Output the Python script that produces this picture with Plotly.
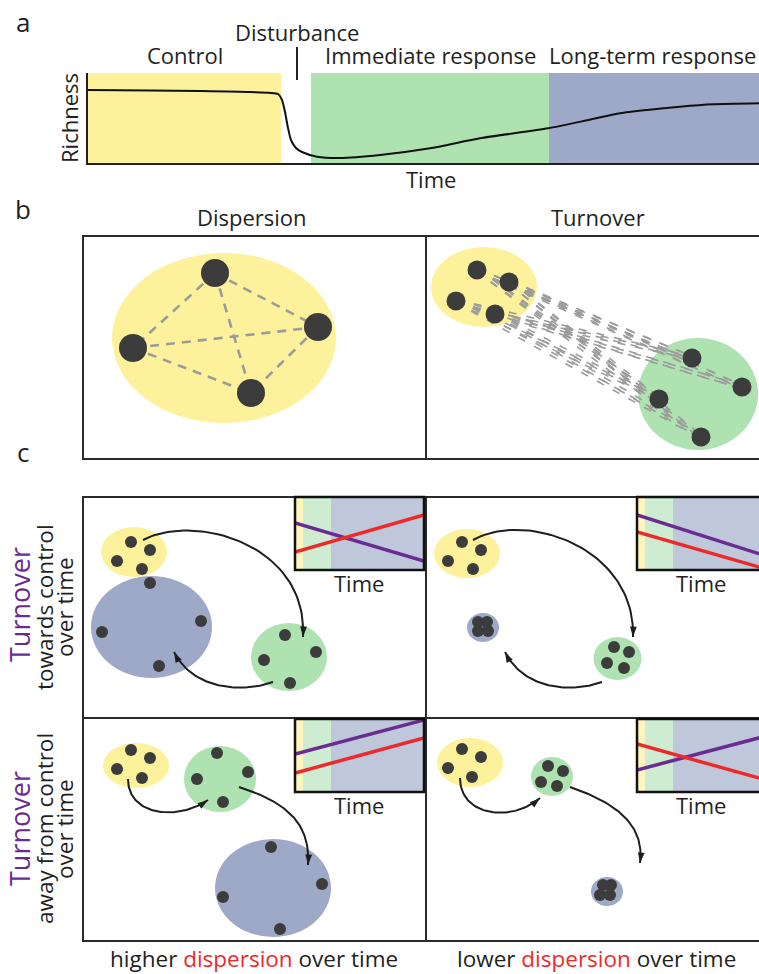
import math
import numpy as np
import plotly.graph_objects as go

PAGE_W, PAGE_H = 759, 974
FONT = "Open Sans"
INK = "#231F20"
YELLOW, GREEN, BLUE = "#FDF29B", "#AEE2B0", "#9DA9C7"
YELLOW_L, GREEN_L, BLUE_L = "#FCF6BE", "#CDECD2", "#BFC7DB"
DOT = "#3C3C3C"
PURPLE, RED = "#6A2C91", "#ED2A2A"
GRAY = "#9B9B9B"

# ---------------- panel a : richness through time ----------------
phase_labels = ["Control", "Immediate response", "Long-term response"]
phase_start = [0, 223, 461]
phase_end = [193, 461, 681]
disturbance_time = 209
time_a = [0, 62, 112, 162, 190, 194, 197, 200, 203, 208, 214, 229, 252, 292,
          342, 392, 460, 499, 532, 559, 592, 625, 671]
richness_a = [73, 72.5, 72, 71, 69, 63, 51, 35, 23, 15, 11, 6.3, 5, 8,
              14.7, 24.7, 34.7, 42.7, 49.7, 53, 56.3, 58.7, 59.7]

# ---------------- panel b : dispersion / turnover ----------------
disp_x = [132, 235, 50, 168]
disp_y = [186, 132, 111, 66]
disp_ellipse = [141, 121, 112, 85]

turn_ctrl_x = [51, 83, 30, 69]
turn_ctrl_y = [189, 177, 158, 145]
turn_ctrl_ellipse = [58, 172, 53, 40]
turn_imm_x = [266, 316, 233, 275]
turn_imm_y = [101, 72, 60, 22]
turn_imm_ellipse = [272, 65, 60, 56]

# ---------------- panel c : four scenarios ----------------
# top-left: turnover towards control, higher dispersion
tl_ctrl = [(48, 176), (67, 168), (34, 157), (59, 149)]
tl_imm = [(202, 83), (233, 66), (181, 58), (207, 35)]
tl_long = [(67, 135), (118, 97), (19, 86), (76, 52)]
tl_ellipses = [(51, 166, 33, 25), (206, 61, 38, 34), (68.5, 91, 60.5, 51)]
tl_arrows = [[(60, 178), (110, 205), (225, 175), (220, 81)],
             [(190, 36), (160, 25), (110, 28), (91, 66)]]
# top-right: turnover towards control, lower dispersion
tr_ctrl = [(36, 176), (55, 168), (22, 157), (47, 149)]
tr_imm = [(188, 71), (203, 66), (181, 55), (198, 50)]
tr_long = [(52, 96), (61, 96), (52, 87), (62, 87)]
tr_ellipses = [(41, 164.5, 33, 24.5), (191.5, 59.5, 24, 21.5), (57, 90.5, 16, 14.5)]
tr_arrows = [[(47, 178), (100, 208), (210, 170), (207, 81)],
             [(176, 36), (146, 25), (98, 28), (79, 66)]]
# bottom-left: turnover away from control, higher dispersion
bl_ctrl = [(48, 191), (67, 183), (34, 172), (59, 163)]
bl_imm = [(134, 188), (165, 169), (114, 162), (140, 139)]
bl_long = [(188, 94), (239, 57), (140, 44), (197, 12)]
bl_ellipses = [(53, 175.5, 33, 22.5), (137, 162, 36, 33), (190, 53, 58, 49)]
bl_arrows = [[(45, 162), (45, 125), (95, 120), (125, 141)],
             [(156, 154), (200, 140), (228, 120), (225, 76)]]
# bottom-right: turnover away from control, lower dispersion
br_ctrl = [(36, 192), (55, 184), (22, 173), (46, 164)]
br_imm = [(122, 175), (137, 170), (115, 159), (131, 155)]
br_long = [(177, 56), (185, 56), (174, 46), (184, 46)]
br_ellipses = [(44, 178.5, 33, 24.5), (126, 164.5, 21, 19.5), (181, 49.5, 16, 14.5)]
br_arrows = [[(34, 163), (34, 125), (85, 118), (114, 143)],
             [(144, 154), (200, 135), (218, 110), (214, 78)]]

# inset metric lines (time 0..129)
inset_time = [0, 129]
inset_phase_start = [0, 8, 36]
inset_phase_end = [8, 36, 129]
tl_turnover, tl_dispersion = [47, 9], [18, 55]
tr_turnover, tr_dispersion = [55, 14], [38, 1]
bl_turnover, bl_dispersion = [38, 72], [19, 54]
br_turnover, br_dispersion = [22, 56], [48, 12]


# ---------------- helpers ----------------
def px(x):
    return x / PAGE_W


def py(y):
    return 1 - y / PAGE_H


def axn(n):
    return ("x", "y") if n == 1 else (f"x{n}", f"y{n}")


fig = go.Figure()
shapes = []
annotations = []
layout_axes = {}


def add_axes(n, x0, x1, y0, y1, xr, yr, visible=False):
    xa, ya = axn(n)
    xkey = "xaxis" if n == 1 else f"xaxis{n}"
    ykey = "yaxis" if n == 1 else f"yaxis{n}"
    common = dict(visible=visible, showgrid=False, zeroline=False, fixedrange=True,
                  showticklabels=False, ticks="")
    layout_axes[xkey] = dict(domain=[px(x0), min(1, px(x1))], range=xr, anchor=ya, **common)
    layout_axes[ykey] = dict(domain=[py(y1), py(y0)], range=yr, anchor=xa, **common)


def ellipse(n, cx, cy, rx, ry, color):
    xa, ya = axn(n)
    shapes.append(dict(type="circle", xref=xa, yref=ya, x0=cx - rx, x1=cx + rx,
                       y0=cy - ry, y1=cy + ry, fillcolor=color, line_width=0, layer="below"))


def dots(n, xs, ys, size):
    xa, ya = axn(n)
    fig.add_trace(go.Scatter(x=xs, y=ys, mode="markers", xaxis=xa, yaxis=ya,
                             marker=dict(size=size, color=DOT, line_width=0),
                             hoverinfo="skip"))


def bezier(P, m=60):
    P = np.array(P, float)
    t = np.linspace(0, 1, m)[:, None]
    return ((1 - t) ** 3) * P[0] + 3 * ((1 - t) ** 2) * t * P[1] + 3 * (1 - t) * t ** 2 * P[2] + t ** 3 * P[3]


def arrow(n, P):
    xa, ya = axn(n)
    c = bezier(P)
    fig.add_trace(go.Scatter(x=c[:, 0], y=c[:, 1], mode="lines", xaxis=xa, yaxis=ya,
                             line=dict(color="#1E1E1E", width=2), hoverinfo="skip"))
    dx, dy = P[3][0] - P[2][0], P[3][1] - P[2][1]
    ang = math.degrees(math.atan2(dx, dy))
    fig.add_trace(go.Scatter(x=[P[3][0]], y=[P[3][1]], mode="markers", xaxis=xa, yaxis=ya,
                             marker=dict(symbol="arrow", size=11, angle=ang, color="#1E1E1E",
                                         line_width=0), hoverinfo="skip"))


def text(x, y, s, size=22, color=INK, angle=0, xanchor="center", xref="paper", yref="paper"):
    annotations.append(dict(x=x, y=y, xref=xref, yref=yref, text=s, showarrow=False,
                            textangle=angle, xanchor=xanchor, yanchor="middle",
                            font=dict(family=FONT, size=size, color=color)))


# ---------------- panel a ----------------
add_axes(1, 88, 759, 73, 163, [0, 671], [0, 90], visible=True)
layout_axes["xaxis"].update(showline=True, linecolor=INK, linewidth=2)
layout_axes["yaxis"].update(showline=True, linecolor=INK, linewidth=2)
for s, e, col in zip(phase_start, phase_end, [YELLOW, GREEN, BLUE]):
    shapes.append(dict(type="rect", xref="x", yref="y", x0=s, x1=e, y0=0, y1=90,
                       fillcolor=col, line_width=0, layer="below"))
fig.add_trace(go.Scatter(x=time_a, y=richness_a, mode="lines", line=dict(color="#111", width=2,
                         shape="spline", smoothing=0.6), hoverinfo="skip"))
for lab, s, e in zip(phase_labels[:2], phase_start[:2], phase_end[:2]):
    text((s + e) / 2, py(55), lab, xref="x")
# last phase label sits flush with the right page edge
text(px(758), py(55), phase_labels[2], xanchor="right")
text(disturbance_time, py(32), "Disturbance", xref="x")
shapes.append(dict(type="line", xref="x", yref="paper", x0=disturbance_time, x1=disturbance_time,
                   y0=py(47), y1=py(80), line=dict(color=INK, width=2)))
text(px(69), py(118), "Richness", angle=-90)
text(px(431), py(179), "Time")
text(px(23), py(22), "a", size=26)

# ---------------- panel b ----------------
add_axes(2, 83, 426, 236, 459, [0, 343], [0, 223])
add_axes(3, 426, 759, 236, 459, [0, 333], [0, 223])
ellipse(2, *disp_ellipse, YELLOW)
lx, ly = [], []
for i in range(4):
    for j in range(i + 1, 4):
        lx += [disp_x[i], disp_x[j], None]
        ly += [disp_y[i], disp_y[j], None]
fig.add_trace(go.Scatter(x=lx, y=ly, mode="lines", xaxis="x2", yaxis="y2",
                         line=dict(color=GRAY, width=2.6, dash="9px,7px"), hoverinfo="skip"))
dots(2, disp_x, disp_y, 28)

ellipse(3, *turn_ctrl_ellipse, YELLOW)
ellipse(3, *turn_imm_ellipse, GREEN)
# each turnover link drawn as a doubled dashed stroke (two parallel strokes)
lx, ly = [], []
for i in range(4):
    for j in range(4):
        ax_, ay_ = turn_ctrl_x[i], turn_ctrl_y[i]
        bx_, by_ = turn_imm_x[j], turn_imm_y[j]
        L = math.hypot(bx_ - ax_, by_ - ay_)
        nx, ny = -(by_ - ay_) / L, (bx_ - ax_) / L
        for off in (-1.6, 1.6):
            lx += [ax_ + nx * off, bx_ + nx * off, None]
            ly += [ay_ + ny * off, by_ + ny * off, None]
fig.add_trace(go.Scatter(x=lx, y=ly, mode="lines", xaxis="x3", yaxis="y3",
                         line=dict(color=GRAY, width=1.6, dash="8px,10px"), hoverinfo="skip"))
dots(3, turn_ctrl_x, turn_ctrl_y, 19)
dots(3, turn_imm_x, turn_imm_y, 19)

for (x0, x1) in [(83, 426), (426, 800)]:
    shapes.append(dict(type="rect", xref="paper", yref="paper", x0=px(x0), x1=px(x1),
                       y0=py(459), y1=py(236), line=dict(color="#2A2A2A", width=2), layer="above"))
text(px(252), py(217), "Dispersion")
text(px(598), py(217), "Turnover")
text(px(23), py(209), "b", size=26)

# ---------------- panel c ----------------
scen = [
    (4, 83, 426, 497, 718, tl_ctrl, tl_imm, tl_long, tl_ellipses, tl_arrows),
    (5, 426, 759, 497, 718, tr_ctrl, tr_imm, tr_long, tr_ellipses, tr_arrows),
    (6, 83, 426, 718, 941, bl_ctrl, bl_imm, bl_long, bl_ellipses, bl_arrows),
    (7, 426, 759, 718, 941, br_ctrl, br_imm, br_long, br_ellipses, br_arrows),
]
for n, x0, x1, y0, y1, c1, c2, c3, ells, arrs in scen:
    add_axes(n, x0, x1, y0, y1, [0, x1 - x0], [0, y1 - y0])
    for (cx, cy, rx, ry), col in zip(ells, [YELLOW, GREEN, BLUE]):
        ellipse(n, cx, cy, rx, ry, col)
    for grp in (c1, c2, c3):
        dots(n, [p[0] for p in grp], [p[1] for p in grp], 12)
    for P in arrs:
        arrow(n, P)
    shapes.append(dict(type="rect", xref="paper", yref="paper", x0=px(x0),
                       x1=px(x1 if x1 < 759 else 800), y0=py(y1), y1=py(y0),
                       line=dict(color="#2A2A2A", width=2), layer="above"))

insets = [
    (8, 295, 424, 497, 570, tl_turnover, tl_dispersion),
    (9, 637, 759, 497, 570, tr_turnover, tr_dispersion),
    (10, 295, 424, 719, 792, bl_turnover, bl_dispersion),
    (11, 637, 759, 719, 792, br_turnover, br_dispersion),
]
for n, x0, x1, y0, y1, turn, disp in insets:
    add_axes(n, x0, x1, y0, y1, [0, x1 - x0], [0, 73])
    xa, ya = axn(n)
    for s, e, col in zip(inset_phase_start, inset_phase_end, [YELLOW_L, GREEN_L, BLUE_L]):
        shapes.append(dict(type="rect", xref=xa, yref=ya, x0=s, x1=e, y0=0, y1=73,
                           fillcolor=col, line_width=0, layer="below"))
    fig.add_trace(go.Scatter(x=inset_time, y=turn, mode="lines", xaxis=xa, yaxis=ya,
                             line=dict(color=PURPLE, width=3.5), hoverinfo="skip"))
    fig.add_trace(go.Scatter(x=inset_time, y=disp, mode="lines", xaxis=xa, yaxis=ya,
                             line=dict(color=RED, width=3.5), hoverinfo="skip"))
    shapes.append(dict(type="rect", xref="paper", yref="paper", x0=px(x0),
                       x1=px(x1 if x1 < 759 else 766), y0=py(y1), y1=py(y0),
                       line=dict(color="#111", width=2.5), layer="above"))
    text(px(x0 + 64), py(y1 + 13), "Time")

text(px(23), py(452), "c", size=26)

red_word = f"<span style='color:{RED}'>dispersion</span>"
text(px(254), py(958), f"higher {red_word} over time", size=22.5)
text(px(596), py(958), f"lower {red_word} over time", size=22.5)

tv = "Turnover"
text(px(19), py(605), tv, size=27, color=PURPLE, angle=-90)
text(px(44), py(607), "towards control", size=22.5, angle=-90)
text(px(64), py(607), "over time", size=22.5, angle=-90)
text(px(19), py(829), tv, size=27, color=PURPLE, angle=-90)
text(px(44), py(829), "away from control", size=22.5, angle=-90)
text(px(64), py(829), "over time", size=22.5, angle=-90)

fig.update_layout(width=PAGE_W, height=PAGE_H, margin=dict(l=0, r=0, t=0, b=0),
                  paper_bgcolor="white", plot_bgcolor="rgba(0,0,0,0)", showlegend=False,
                  hovermode=False, shapes=shapes, annotations=annotations,
                  font=dict(family=FONT, color=INK), **layout_axes)
fig.write_html("out.html")
